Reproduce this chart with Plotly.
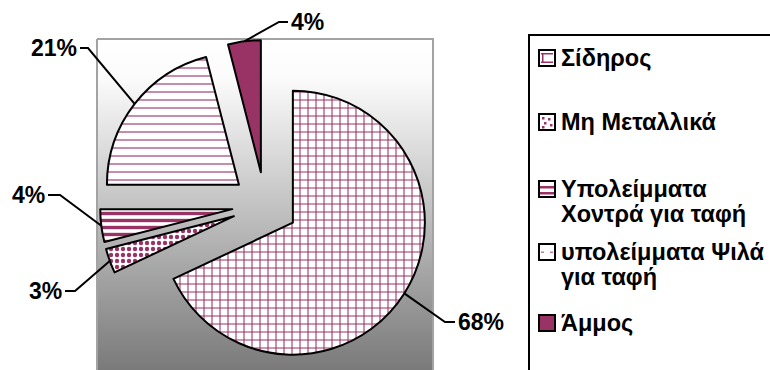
import math
import plotly.graph_objects as go

# ---- data -------------------------------------------------------------
categories = ["Σίδηρος", "Μη Μεταλλικά", "Υπολείμματα\nΧοντρά για ταφή",
              "υπολείμματα Ψιλά\nγια ταφή", "Άμμος"]
values = [68, 3, 4, 21, 4]

# ---- styling ----------------------------------------------------------
W, H = 770, 370
PLUM = "#993366"
FONT = "Arial"

slice_fill = ["white", "white", "white", "white", PLUM]
pat_shape = ["+", ".", "-", "-", ""]
pat_size = [8, 6, 7, 8, 6]
pat_solid = [0.25, 0.42, 0.48, 0.22, 0.3]
pat_fg = [PLUM, PLUM, PLUM, "#c07ca1", PLUM]

pull = 0.25
dom_x = [100 / W, 430 / W]
dom_y = [0.0, 330 / H]

# label placement (pixels): text edge, text row, elbow of leader line
lab_x = [456, 64, 47, 79, 289]
lab_y = [322, 291, 195, 48, 22]
elbow_x = [445, 75, 60, 88, 279]
lab_side = ["left", "right", "right", "right", "left"]

# legend placement (pixels)
leg_box = (529, 35, 790, 400)
leg_sym_x0 = 539
leg_sym = 16
leg_text_x = 559
leg_y = [58, 122, 189, 252, 323]
leg_line_gap = 25

# ---- geometry of the pie as laid out by plotly -------------------------
box_w = W * (dom_x[1] - dom_x[0])
box_h = H * (dom_y[1] - dom_y[0])
r = min(box_w, box_h) / (2 + 2 * pull)
cx = W * (dom_x[0] + dom_x[1]) / 2
cy = H * (1 - (dom_y[0] + dom_y[1]) / 2)

total = sum(values)
mid_angles = []
acc = 0
for v in values:
    mid_angles.append(2 * math.pi * (acc + v / 2) / total)
    acc += v

fig = go.Figure()

# plot area with vertical white-to-grey gradient
area = (97, 39, 433, 373)
fig.add_trace(go.Scatter(
    x=[area[0], area[2], area[2], area[0], area[0]],
    y=[area[1], area[1], area[3], area[3], area[1]],
    mode="lines", fill="toself",
    line=dict(color="#a3a3a3", width=2),
    fillgradient=dict(type="vertical", start=area[1], stop=370,
                      colorscale=[[0, "#ffffff"], [0.12, "#fbfbfb"], [1, "#7a7a7a"]]),
    hoverinfo="skip", showlegend=False))

# leader lines from each slice's outer arc to its label
for i, a in enumerate(mid_angles):
    sx = cx + (1 + pull) * r * math.sin(a)
    sy = cy - (1 + pull) * r * math.cos(a)
    end_x = lab_x[i] - 1 if lab_side[i] == "left" else lab_x[i] + 1
    fig.add_trace(go.Scatter(
        x=[sx, elbow_x[i], end_x], y=[sy, lab_y[i], lab_y[i]],
        mode="lines", line=dict(color="black", width=2),
        hoverinfo="skip", showlegend=False))

# percentage labels
for i, v in enumerate(values):
    fig.add_annotation(
        x=lab_x[i], y=lab_y[i], xref="x", yref="y",
        text=f"{round(100 * v / total)}%", showarrow=False,
        xanchor=lab_side[i], yanchor="middle",
        font=dict(family=FONT, size=23, color="black", weight=700))

# the exploded pie
fig.add_trace(go.Pie(
    values=values, labels=[c.replace("\n", " ") for c in categories],
    sort=False, direction="clockwise", rotation=0,
    pull=[pull] * len(values),
    domain=dict(x=dom_x, y=dom_y),
    textinfo="none", hoverinfo="skip", showlegend=False,
    marker=dict(colors=slice_fill, line=dict(color="black", width=2),
                pattern=dict(shape=pat_shape, size=pat_size, solidity=pat_solid,
                             fgcolor=pat_fg, bgcolor=slice_fill, fillmode="replace"))))

# legend frame
fig.add_shape(type="rect", xref="x", yref="y",
              x0=leg_box[0], y0=leg_box[1], x1=leg_box[2], y1=leg_box[3],
              line=dict(color="black", width=2), fillcolor="rgba(0,0,0,0)")


def sym_rect(x0, y0, x1, y1, fill, line_color=None, width=0):
    fig.add_shape(type="rect", xref="x", yref="y", x0=x0, y0=y0, x1=x1, y1=y1,
                  fillcolor=fill,
                  line=dict(color=line_color or fill, width=width))


# legend keys: small squares with a hint of each slice's texture
for i, yc in enumerate(leg_y):
    x0, y0 = leg_sym_x0, yc - leg_sym / 2
    x1, y1 = x0 + leg_sym, y0 + leg_sym
    sym_rect(x0, y0, x1, y1, slice_fill[i], "black", 2)
    if pat_shape[i] == "+":
        sym_rect(x0 + 2, y0 + 3, x1 - 2, y0 + 4.5, PLUM)
        sym_rect(x0 + 2, y1 - 4.5, x1 - 2, y1 - 3, PLUM)
        sym_rect(x0 + 3, y0 + 3, x0 + 4.5, y1 - 3, PLUM)
    elif pat_shape[i] == ".":
        for dx, dy in [(3, 3), (9, 4), (5, 8), (11, 10), (3, 12)]:
            sym_rect(x0 + dx, y0 + dy, x0 + dx + 2.5, y0 + dy + 2.5, PLUM)
    elif pat_shape[i] == "-" and pat_solid[i] > 0.3:
        sym_rect(x0 + 1, y0 + 5, x1 - 1, y0 + 7.5, PLUM)
        sym_rect(x0 + 1, y0 + 11, x1 - 1, y0 + 13.5, PLUM)
    elif pat_shape[i] == "-":
        sym_rect(x0 + 2, y0 + 7.5, x0 + 5, y0 + 9, pat_fg[i])
        sym_rect(x1 - 5, y0 + 7.5, x1 - 2, y0 + 9, pat_fg[i])

# legend texts
for i, name in enumerate(categories):
    for k, line in enumerate(name.split("\n")):
        fig.add_annotation(
            x=leg_text_x, y=leg_y[i] + k * leg_line_gap, xref="x", yref="y",
            text=line, showarrow=False, xanchor="left", yanchor="middle",
            font=dict(family=FONT, size=23.5, color="black", weight=700))

fig.update_layout(
    width=W, height=H, margin=dict(l=0, r=0, t=0, b=0),
    paper_bgcolor="white", plot_bgcolor="rgba(0,0,0,0)",
    xaxis=dict(range=[0, W], visible=False, fixedrange=True),
    yaxis=dict(range=[H, 0], visible=False, fixedrange=True),
    showlegend=False)

fig.write_html("out.html")
